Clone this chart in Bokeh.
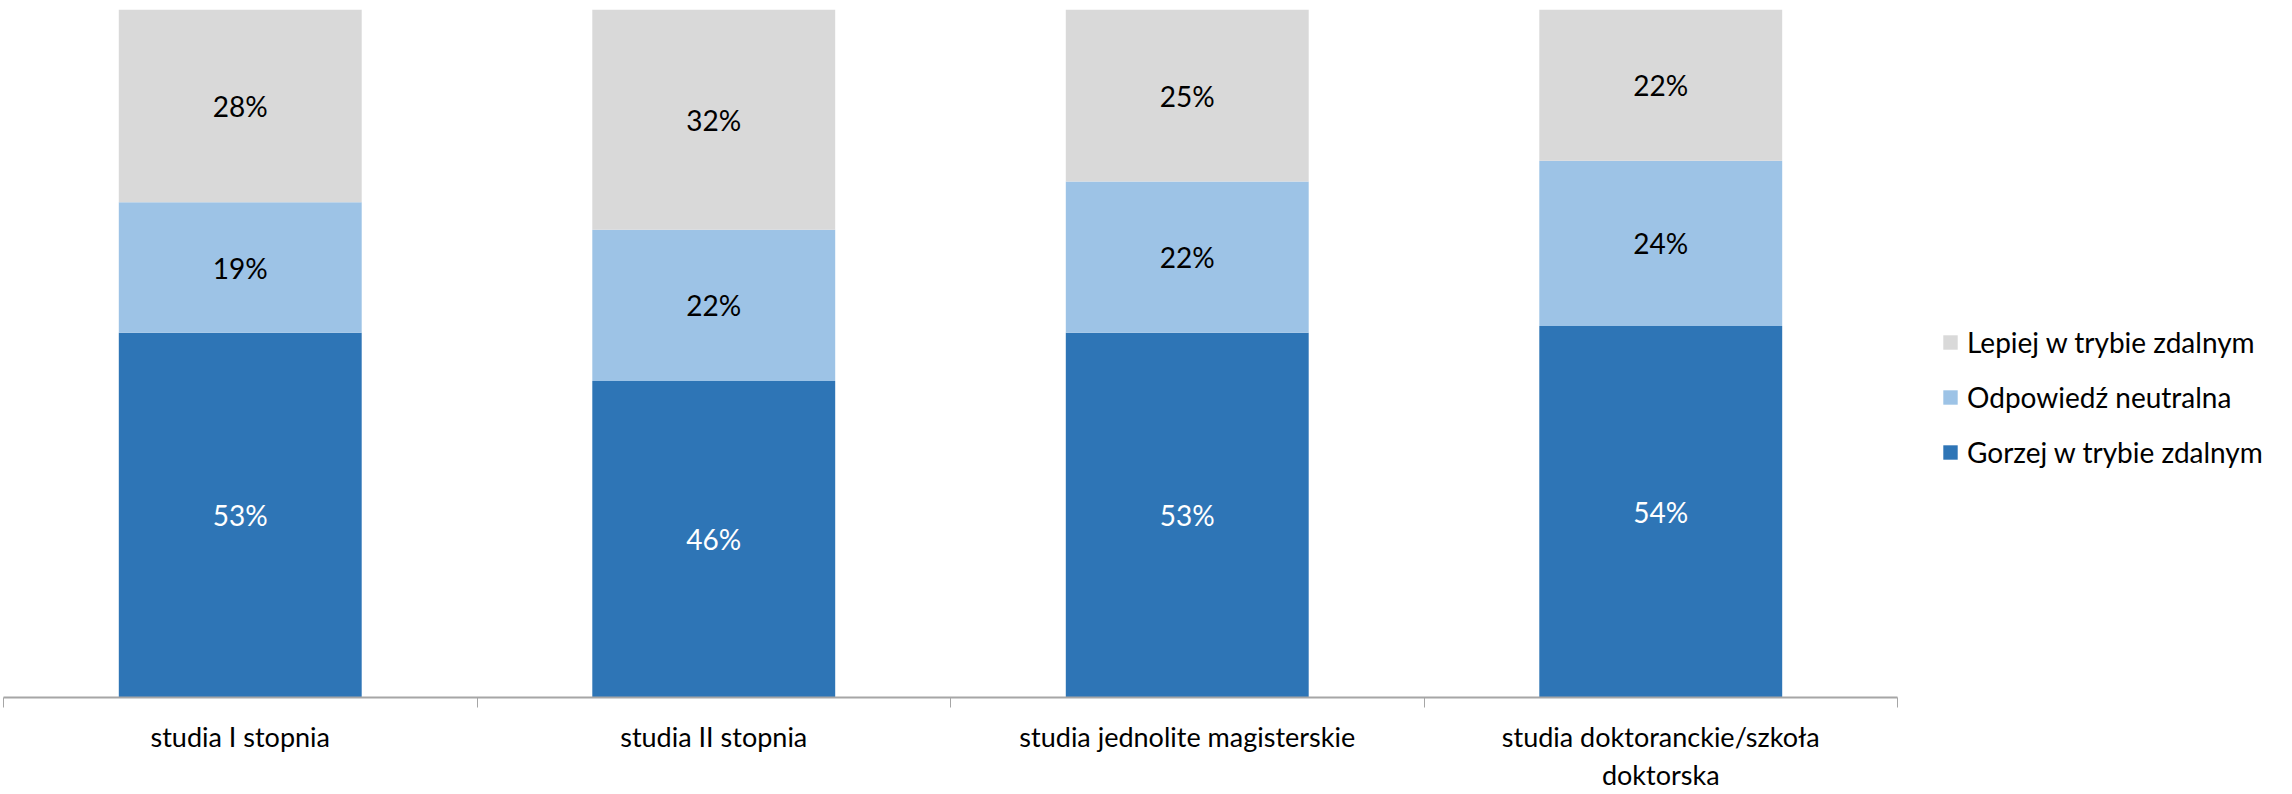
from bokeh.plotting import figure
from bokeh.models import Range1d, FixedTicker, Legend, LegendItem, ColumnDataSource
from bokeh.embed import file_html
from bokeh.resources import INLINE
from bokeh.core.properties import value

categories = ["studia I stopnia", "studia II stopnia", "studia jednolite magisterskie",
              "studia doktoranckie/szkoła\ndoktorska"]
series_names = ["Gorzej w trybie zdalnym", "Odpowiedź neutralna", "Lepiej w trybie zdalnym"]
gorzej = [53, 46, 53, 54]
neutralna = [19, 22, 22, 24]
lepiej = [28, 32, 25, 22]
colors = ["#2E75B6", "#9DC3E6", "#D9D9D9"]
label_colors = ["#FFFFFF", "#000000", "#000000"]

FONT = "Lato"
W, H = 2292, 794
LEFT, AXIS_END, TOP, BOTTOM = 3, 1897, 9, 697
n = len(categories)
xs = [i + 0.5 for i in range(n)]
frame_w = W - LEFT
x_end = n * frame_w / (AXIS_END - LEFT)

p = figure(width=W, height=H, output_backend="svg", toolbar_location=None,
           x_range=Range1d(0, x_end), y_range=Range1d(0, 100),
           min_border_left=LEFT, min_border_top=TOP, min_border_bottom=H - BOTTOM, min_border_right=0)
p.outline_line_color = None
p.xgrid.visible = False
p.ygrid.visible = False
p.yaxis.visible = False

src = ColumnDataSource(dict(x=xs, g=gorzej, n=neutralna, l=lepiej))
renderers = p.vbar_stack(["g", "n", "l"], x="x", width=0.513, source=src, color=colors, line_color=None)

series = [gorzej, neutralna, lepiej]
bottoms = [0] * n
for vals, tc in zip(series, label_colors):
    mids = [b + v / 2 for b, v in zip(bottoms, vals)]
    p.text(x=xs, y=mids, text=[f"{v}%" for v in vals], text_align="center", text_baseline="middle",
           text_color=tc, text_font=value(FONT), text_font_size="28px")
    bottoms = [b + v for b, v in zip(bottoms, vals)]

ax = p.xaxis[0]
ax.bounds = (0, n)
ax.ticker = FixedTicker(ticks=xs, minor_ticks=list(range(n + 1)))
ax.major_label_overrides = {x: c for x, c in zip(xs, categories)}
ax.major_tick_in = 0
ax.major_tick_out = 0
ax.minor_tick_in = 0
ax.minor_tick_out = 10
ax.axis_line_color = "#A6A6A6"
ax.axis_line_width = 2
ax.minor_tick_line_color = "#A6A6A6"
ax.major_label_text_font = FONT
ax.major_label_text_font_size = "27px"
ax.major_label_text_line_height = 1.17
ax.major_label_text_color = "#000000"
ax.major_label_standoff = 12

items = [LegendItem(label=series_names[i], renderers=[renderers[i]]) for i in [2, 1, 0]]
legend = Legend(items=items, location=(1938, 228), orientation="vertical",
                glyph_width=18, glyph_height=18, label_standoff=8, label_height=34, spacing=21,
                padding=0, margin=0, border_line_color=None, background_fill_alpha=0,
                label_text_font=FONT, label_text_font_size="28px", label_text_color="#000000")
p.add_layout(legend, "center")

open("out.html", "w").write(file_html(p, INLINE))
